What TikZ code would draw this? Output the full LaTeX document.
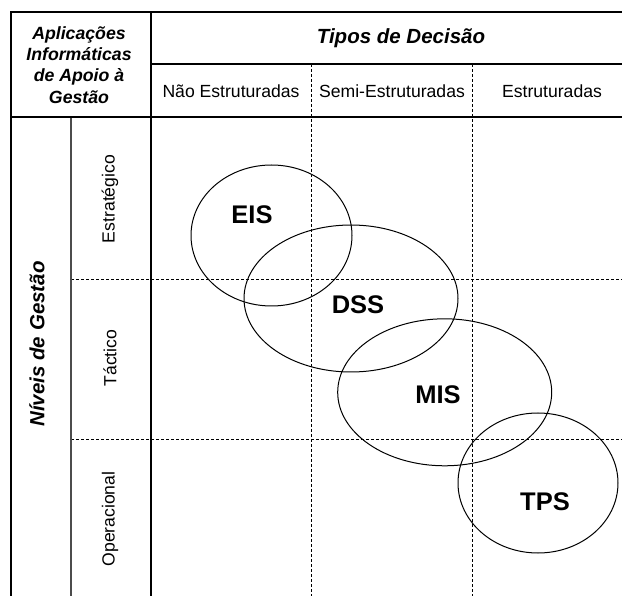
\documentclass[tikz,border=0pt]{standalone}
\usepackage{fontspec}
\setmainfont{Liberation Sans}
\usetikzlibrary{shapes.geometric}
\begin{document}
\begin{tikzpicture}[x=1pt,y=-1pt,
  thickrule/.style={line width=2.6pt,line cap=rect},
  thinrule/.style={line width=1.3pt,draw=black!70},
  dashrule/.style={line width=0.9pt,dash pattern=on 3pt off 2pt},
  ell/.style={ellipse,draw,line width=1pt,inner sep=0pt},
  lab/.style={font=\fontsize{17.6}{21}\selectfont,inner sep=0pt},
  biglab/.style={font=\fontsize{20.5}{24}\selectfont\bfseries\itshape,inner sep=0pt},
  sys/.style={font=\fontsize{25.5}{30}\selectfont\bfseries,inner sep=0pt}]
\useasboundingbox (0,0) rectangle (622,596);
% grid coordinates
\coordinate (tl) at (11,12);
\coordinate (tr) at (630,12);
\coordinate (hm) at (151,64);
\coordinate (hmr) at (630,64);
\coordinate (hb) at (11,117);
\coordinate (hbr) at (630,117);
\coordinate (bl) at (11,600);
\coordinate (c1t) at (151,12);
\coordinate (c1b) at (151,600);
\coordinate (c0t) at (71,117);
\coordinate (c0b) at (71,600);
\coordinate (d1t) at (311,64);
\coordinate (d1b) at (311,600);
\coordinate (d2t) at (472,64);
\coordinate (d2b) at (472,600);
\coordinate (r1l) at (71,279);
\coordinate (r1r) at (630,279);
\coordinate (r2l) at (71,439);
\coordinate (r2r) at (630,439);
% dashed rules
\draw[dashrule] (d1t) -- (d1b);
\draw[dashrule] (d2t) -- (d2b);
\draw[dashrule] (r1l) -- (r1r);
\draw[dashrule] (r2l) -- (r2r);
% thin rule
\draw[thinrule] (c0t) -- (c0b);
% thick rules
\draw[thickrule] (tl) -- (tr);
\draw[thickrule] (hm) -- (hmr);
\draw[thickrule] (hb) -- (hbr);
\draw[thickrule] (tl) -- (bl);
\draw[thickrule] (c1t) -- (c1b);
% headers
\node[lab,align=center,font=\fontsize{17.7}{21.3}\selectfont\bfseries\itshape] (apps) at (79,65) {Aplicações\\Informáticas\\de Apoio à\\Gestão};
\node[biglab] (tipos) at (401,38) {Tipos de Decisão};
\node[lab] (naoest) at (231,91) {Não Estruturadas};
\node[lab] (semiest) at (392,91) {Semi-Estruturadas};
\node[lab] (est) at (552,91) {Estruturadas};
\node[biglab,rotate=90] (niveis) at (37,344) {Níveis de Gestão};
\node[lab,rotate=90] (estrat) at (110,199) {Estratégico};
\node[lab,rotate=90] (tactico) at (110,358) {Táctico};
\node[lab,rotate=90] (operac) at (110,519) {Operacional};
% ellipses
\node[ell,minimum width=161pt,minimum height=141pt] (eisE) at (271.5,235.5) {};
\node[ell,minimum width=214pt,minimum height=147pt] (dssE) at (351,298.5) {};
\node[ell,minimum width=214pt,minimum height=147pt] (misE) at (444.7,392.3) {};
\node[ell,minimum width=160pt,minimum height=140pt] (tpsE) at (538,483) {};
\node[sys] (eis) at (252,215) {EIS};
\node[sys] (dss) at (358,305) {DSS};
\node[sys] (mis) at (438,395) {MIS};
\node[sys] (tps) at (545,502) {TPS};
\end{tikzpicture}
\end{document}
